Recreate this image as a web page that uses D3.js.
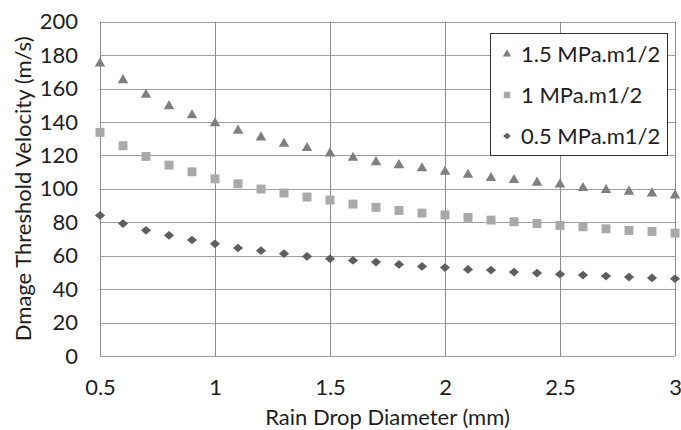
<!DOCTYPE html>
<html>
<head>
<meta charset="utf-8">
<script src="https://cdn.jsdelivr.net/npm/d3@7"></script>
<style>
  body { margin: 0; background: #fff; }
  text { font-family: Lato, "Open Sans", sans-serif; fill: #1e1e1e; }
</style>
</head>
<body>
<script>
// rain drop diameter (mm)
const diameters = [0.5, 0.6, 0.7, 0.8, 0.9, 1.0, 1.1, 1.2, 1.3, 1.4, 1.5, 1.6, 1.7,
                   1.8, 1.9, 2.0, 2.1, 2.2, 2.3, 2.4, 2.5, 2.6, 2.7, 2.8, 2.9, 3.0];
// damage threshold velocity (m/s) per fracture toughness
const v15 = [175, 165, 156.3, 149.5, 144, 139.2, 134.8, 130.8, 127, 124.4, 121.2, 118.6, 116,
             114.2, 112.3, 110.2, 108.4, 106.5, 105.3, 103.7, 102.7, 100.5, 99.3, 98.3, 97.3, 96.1];
const v10 = [133.8, 125.8, 119.4, 114.2, 110.2, 106, 103, 99.9, 97.5, 95.1, 93.3, 90.9, 88.9,
             87.1, 85.5, 84.4, 82.9, 81.3, 80.3, 79.3, 78.1, 77.3, 76.1, 75.1, 74.5, 73.5];
const v05 = [84.1, 79.2, 75.2, 72.2, 69.4, 67.1, 64.6, 63, 61.2, 59.6, 58.2, 57.2, 56.2,
             54.8, 53.6, 52.9, 51.8, 51.4, 50.2, 49.6, 48.9, 48.4, 47.8, 47.2, 46.7, 46.2];
const seriesNames = ['1.5 MPa.m1/2', '1 MPa.m1/2', '0.5 MPa.m1/2'];
const xTicks = [0.5, 1, 1.5, 2, 2.5, 3];
const yTicks = [0, 20, 40, 60, 80, 100, 120, 140, 160, 180, 200];

const width = 681, height = 430;
const plot = {left: 100, right: 675, top: 21.7, bottom: 356};
const fontSize = '22px';

// flattened diamond like excel's marker
const flatDiamond = {
  draw(ctx, size) {
    const r = Math.sqrt(size / 2);
    ctx.moveTo(0, -r * 0.85);
    ctx.lineTo(r, 0);
    ctx.lineTo(0, r * 0.85);
    ctx.lineTo(-r, 0);
    ctx.closePath();
  }
};

const series = [
  {name: seriesNames[0], values: v15, type: d3.symbolTriangle, size: 48, lsize: 30, color: '#7f7f7f'},
  {name: seriesNames[1], values: v10, type: d3.symbolSquare, size: 80, lsize: 42, color: '#a9a9a9'},
  {name: seriesNames[2], values: v05, type: flatDiamond, size: 52, lsize: 30, color: '#5e5e5e'}
];

const svg = d3.select('body').append('svg')
  .attr('width', width)
  .attr('height', height);

const x = d3.scaleLinear().domain([0.5, 3]).range([plot.left, plot.right]);
const y = d3.scaleLinear().domain([0, 200]).range([plot.bottom, plot.top]);

// gridlines
svg.append('g')
  .selectAll('line.h')
  .data(yTicks)
  .join('line')
  .attr('x1', plot.left).attr('x2', plot.right)
  .attr('y1', d => Math.round(y(d)) + 0.5).attr('y2', d => Math.round(y(d)) + 0.5)
  .attr('stroke', '#a0a0a0');

svg.append('g')
  .selectAll('line.v')
  .data(xTicks)
  .join('line')
  .attr('y1', plot.top).attr('y2', plot.bottom)
  .attr('x1', d => Math.round(x(d)) + 0.5).attr('x2', d => Math.round(x(d)) + 0.5)
  .attr('stroke', '#8e8e8e');

// axes (labels only)
const yAxis = d3.axisLeft(y).tickValues(yTicks).tickSize(0).tickPadding(22);
const yAxisG = svg.append('g')
  .attr('transform', `translate(${plot.left},0)`)
  .call(yAxis);
yAxisG.select('.domain').remove();
yAxisG.selectAll('text').attr('font-size', fontSize).style('font-family', 'Lato, sans-serif');

const xAxis = d3.axisBottom(x).tickValues(xTicks).tickFormat(d3.format('~g')).tickSize(0).tickPadding(23);
const xAxisG = svg.append('g')
  .attr('transform', `translate(0,${plot.bottom})`)
  .call(xAxis);
xAxisG.select('.domain').remove();
xAxisG.selectAll('text').attr('font-size', fontSize).style('font-family', 'Lato, sans-serif');

// axis titles
svg.append('text')
  .attr('x', (plot.left + plot.right) / 2)
  .attr('y', 425)
  .attr('text-anchor', 'middle')
  .attr('font-size', fontSize)
  .text('Rain Drop Diameter (mm)');

svg.append('text')
  .attr('transform', `translate(31,${(plot.top + plot.bottom) / 2}) rotate(-90)`)
  .attr('text-anchor', 'middle')
  .attr('font-size', fontSize)
  .text('Dmage Threshold Velocity (m/s)');

// markers
series.forEach(s => {
  svg.append('g')
    .selectAll('path')
    .data(s.values)
    .join('path')
    .attr('d', d3.symbol().type(s.type).size(s.size))
    .attr('transform', (d, i) => `translate(${x(diameters[i])},${y(d)})`)
    .attr('fill', s.color);
});

// legend
const legend = svg.append('g').attr('transform', 'translate(490,33)');
legend.append('rect')
  .attr('x', 0.5).attr('y', 0.5)
  .attr('width', 177).attr('height', 122)
  .attr('fill', '#fff')
  .attr('stroke', '#333');

series.forEach((s, i) => {
  const ly = 21 + i * 41;
  legend.append('path')
    .attr('d', d3.symbol().type(s.type).size(s.lsize))
    .attr('transform', `translate(17,${ly})`)
    .attr('fill', s.color);
  legend.append('text')
    .attr('x', 31)
    .attr('y', ly)
    .attr('dy', '0.35em')
    .attr('font-size', fontSize)
    .text(s.name);
});
</script>
</body>
</html>
